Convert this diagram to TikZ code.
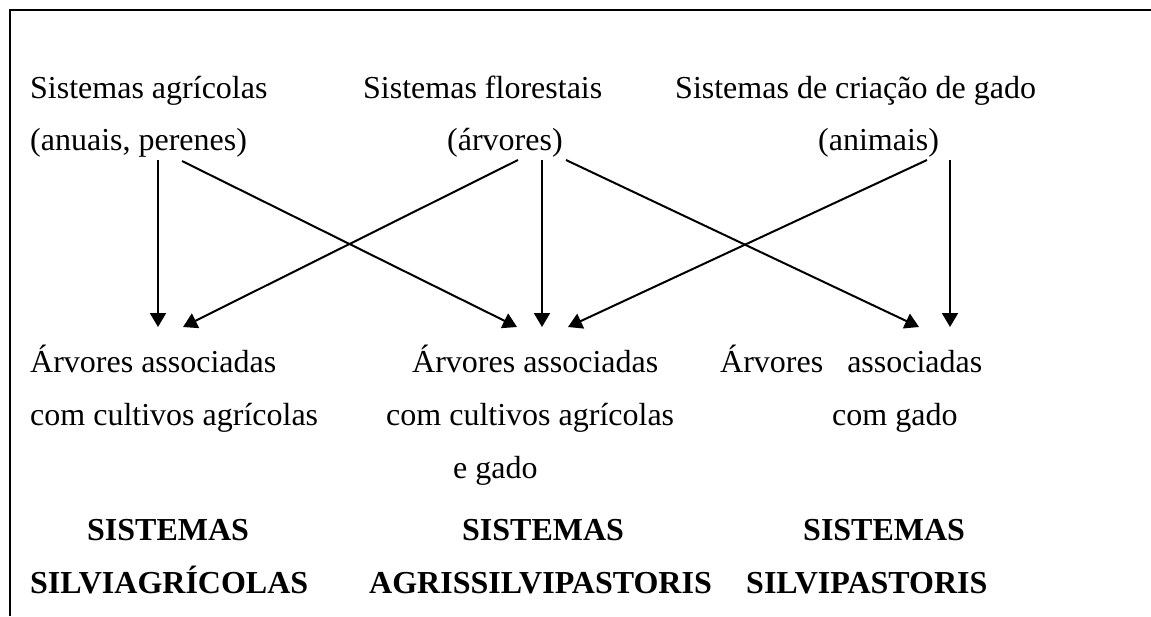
\documentclass[tikz,border=0pt]{standalone}
\usepackage{fontspec}
\setmainfont{Liberation Serif}
\usetikzlibrary{arrows.meta}
\begin{document}
\begin{tikzpicture}[x=1pt,y=-1pt,
  txt/.style={anchor=base west, inner sep=0pt, font=\fontsize{32}{38}\selectfont},
  boldtxt/.style={anchor=base west, inner sep=0pt, font=\fontsize{32}{38}\selectfont\bfseries},
  conn/.style={line width=2pt, -{Triangle[length=14pt,width=16pt]}},
  framestyle/.style={line width=2pt}]
\useasboundingbox (0,0) rectangle (1151,616);
\draw[framestyle] (9.7,616) -- (9.7,10.3) -- (1151,10.3);

% sources
\node[txt] (agr1) at (30,98) {Sistemas agrícolas};
\node[txt] (agr2) at (30,150) {(anuais, perenes)};
\node[txt] (flo1) at (363,98) {Sistemas florestais};
\node[txt] (flo2) at (447,150) {(árvores)};
\node[txt] (gad1) at (675,98) {Sistemas de criação de gado};
\node[txt] (gad2) at (818,150) {(animais)};

% targets
\node[txt] (sa1) at (30,372) {Árvores associadas};
\node[txt] (sa2) at (30,425) {com cultivos agrícolas};
\node[txt] (asp1) at (412,372) {Árvores associadas};
\node[txt] (asp2) at (386,425) {com cultivos agrícolas};
\node[txt] (asp3) at (453,478) {e gado};
\node[txt] (sp1) at (720,372) {Árvores\ \ \ associadas};
\node[txt] (sp2) at (832,425) {com gado};

% system names
\node[boldtxt] (t1a) at (87,540) {SISTEMAS};
\node[boldtxt] (t1b) at (30,593) {SILVIAGRÍCOLAS};
\node[boldtxt] (t2a) at (462,540) {SISTEMAS};
\node[boldtxt] (t2b) at (369,593) {AGRISSILVIPASTORIS};
\node[boldtxt] (t3a) at (803,540) {SISTEMAS};
\node[boldtxt] (t3b) at (746,593) {SILVIPASTORIS};

% connector ends
\coordinate (agrA) at (158,160);
\coordinate (agrB) at (182,161);
\coordinate (floA) at (518,160);
\coordinate (floB) at (542,160);
\coordinate (floC) at (566,160);
\coordinate (gadA) at (927,160);
\coordinate (gadB) at (950,160);
\coordinate (saA) at (158,327);
\coordinate (saB) at (183,327);
\coordinate (aspA) at (517,327);
\coordinate (aspB) at (542,327);
\coordinate (aspC) at (568,327);
\coordinate (spA) at (919,327);
\coordinate (spB) at (950,327);

\draw[conn] (agrA) -- (saA);
\draw[conn] (agrB) -- (aspA);
\draw[conn] (floA) -- (saB);
\draw[conn] (floB) -- (aspB);
\draw[conn] (floC) -- (spA);
\draw[conn] (gadA) -- (aspC);
\draw[conn] (gadB) -- (spB);
\end{tikzpicture}
\end{document}
